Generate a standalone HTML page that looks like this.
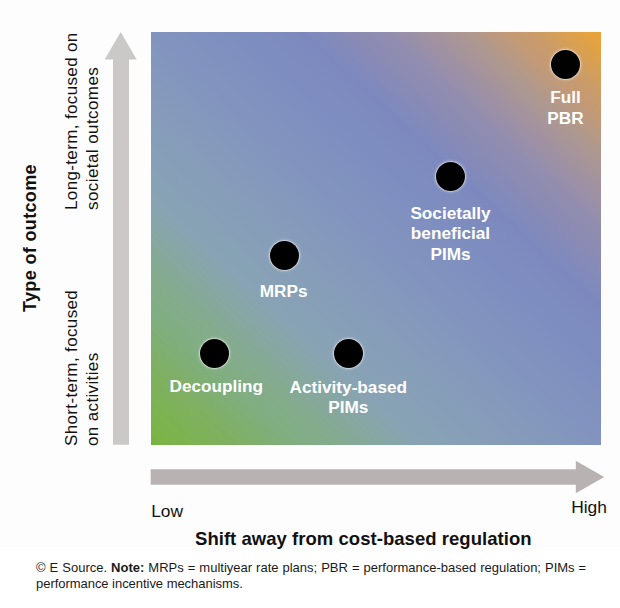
<!DOCTYPE html>
<html><head><meta charset="utf-8">
<style>
html,body{margin:0;padding:0;background:#fff;}
body{width:620px;height:608px;position:relative;overflow:hidden;font-family:"Liberation Sans",sans-serif;}
.abs{position:absolute;}
#plot{left:150.5px;top:31.5px;width:450px;height:413.5px;
background:linear-gradient(to top right,#76b43e 0%,#7cb446 1.5%,#7fb063 10%,#80ae80 16%,#84ab8e 21%,#88a3b4 30%,#869bba 41.5%,#8294be 50%,#7e8dc0 60%,#7d89be 67%,#8d8bb2 73.5%,#918db0 76%,#9f91a3 80%,#ae9890 85%,#c59a73 90%,#c99b6c 92%,#d29e5e 94%,#e6a33c 98.6%,#eaa434 100%);}
.dot{position:absolute;width:29px;height:29px;margin:-14.5px 0 0 -14.5px;border-radius:50%;background:#000;box-shadow:0 0 0 0.8px rgba(255,255,255,0.45),0 0 2.5px 1.5px rgba(255,255,255,0.3);}
.lbl{position:absolute;color:#fff;font-weight:bold;font-size:17.2px;line-height:20.6px;text-align:center;white-space:nowrap;}
.vt{position:absolute;white-space:nowrap;transform-origin:0 0;transform:rotate(-90deg);color:#111;}
.ax{position:absolute;white-space:nowrap;color:#111;font-size:18px;line-height:22px;}
</style></head><body>
<div class="abs" style="left:0;top:0;width:620px;height:551px;background:#fefdfe"></div>
<div id="plot" class="abs"></div>
<svg class="abs" style="left:0;top:0" width="620" height="608">
  <polygon points="120.7,31.9 136.7,59.5 129,59.5 129,444.7 113,444.7 113,59.5 104.7,59.5" fill="#cac9c7"/>
  <polygon points="150.7,469.2 575.8,469.2 575.8,460.8 604.2,477 575.8,493.3 575.8,484.8 150.7,484.8" fill="#b8b3b2"/>
</svg>
<div class="dot" style="left:565.05px;top:64.25px"></div>
<div class="dot" style="left:450.70px;top:176.30px"></div>
<div class="dot" style="left:284.50px;top:255.05px"></div>
<div class="dot" style="left:214.05px;top:353.35px"></div>
<div class="dot" style="left:348.55px;top:353.35px"></div>

<div class="lbl" style="left:515.5px;top:87.3px;width:100px">Full<br>PBR</div>
<div class="lbl" style="left:400.5px;top:202.6px;width:100px">Societally<br>beneficial<br>PIMs</div>
<div class="lbl" style="left:233.7px;top:281.1px;width:100px">MRPs</div>
<div class="lbl" style="left:166.3px;top:375.8px;width:100px">Decoupling</div>
<div class="lbl" style="left:278.3px;top:376.9px;width:140px">Activity-based<br>PIMs</div>

<div class="vt" style="left:18.9px;top:311.6px;font-weight:bold;font-size:18px;letter-spacing:0.35px;line-height:22px;">Type of outcome</div>
<div class="vt" style="left:61px;top:210.4px;font-size:17px;letter-spacing:0.36px;line-height:21px;">Long-term, focused on<br><span style="letter-spacing:0.42px">societal outcomes</span></div>
<div class="vt" style="left:61px;top:445.5px;font-size:17px;letter-spacing:0.36px;line-height:21px;">Short-term, focused<br>on activities</div>

<div class="ax" style="left:151.2px;top:500.3px;font-size:17.4px">Low</div>
<div class="ax" style="left:571.2px;top:496.3px;font-size:17.4px">High</div>
<div class="ax" style="left:195px;top:528px;font-weight:bold;font-size:18.5px;letter-spacing:0.04px">Shift away from cost-based regulation</div>

<div class="abs" style="left:36px;top:560px;font-size:13px;line-height:15px;color:#1a1a1a;white-space:nowrap;word-spacing:0.4px;">© E Source. <b>Note:</b> MRPs = multiyear rate plans; PBR = performance-based regulation; PIMs =</div>
<div class="abs" style="left:36px;top:575.7px;font-size:13px;line-height:15px;color:#1a1a1a;white-space:nowrap;letter-spacing:-0.04px;">performance incentive mechanisms.</div>
</body></html>
